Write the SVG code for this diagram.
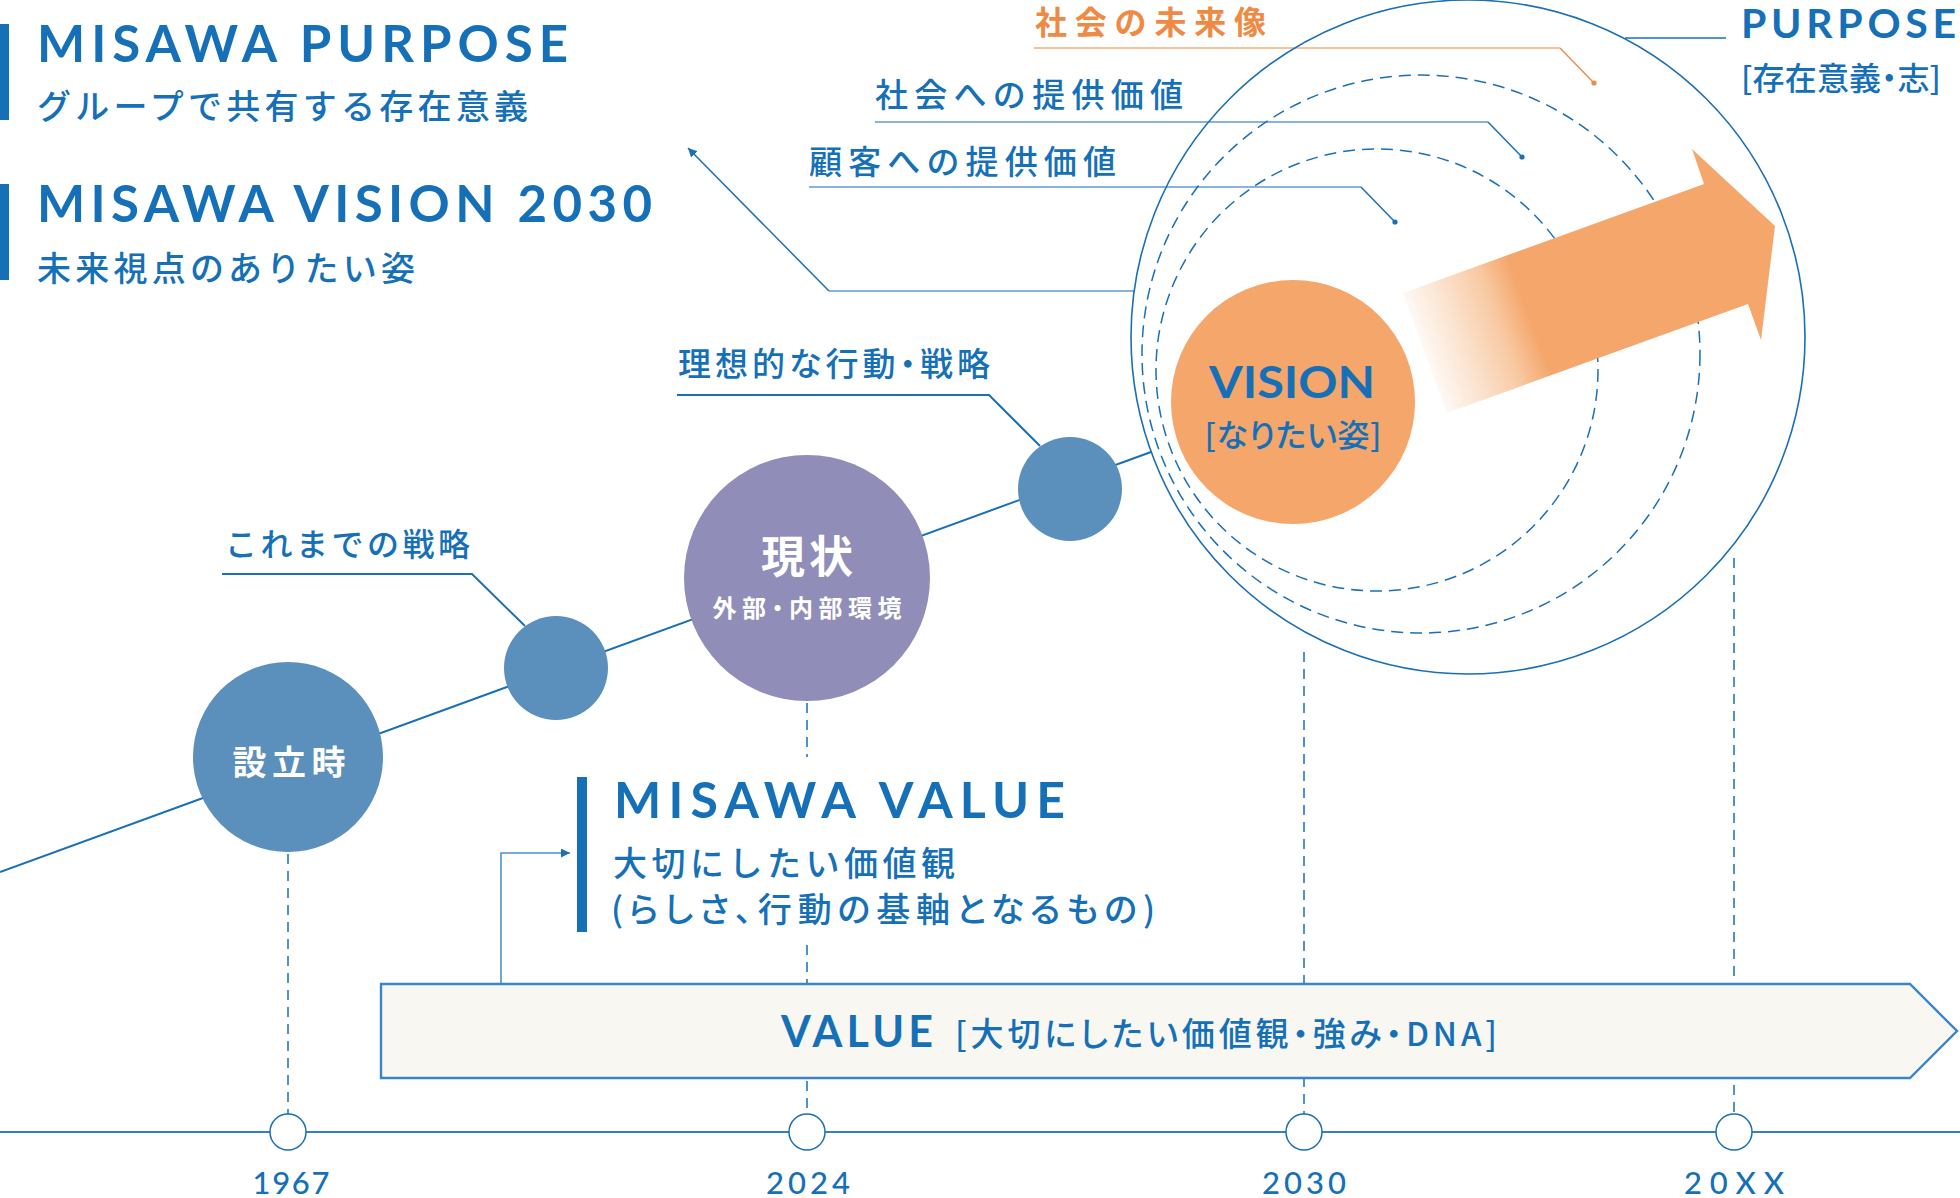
<svg xmlns="http://www.w3.org/2000/svg" width="1960" height="1198" viewBox="0 0 1960 1198">
<style>
.lat{font-family:Lato,"Noto Sans CJK JP","Liberation Sans",sans-serif;}
.jp{font-family:"Noto Sans CJK JP","Noto Sans",sans-serif;}
.p{font-feature-settings:"palt";}
.blue{fill:#1670b8;}
.title{font-weight:700;font-size:51px;}
.sub{font-weight:500;font-size:34px;}
.lbl{font-weight:500;font-size:33px;}
.wb{fill:#ffffff;font-weight:700;}
.ln{fill:none;stroke:#1a6fb5;stroke-width:1.5;}
.lnh{fill:none;stroke:#5e9bd4;stroke-width:1.6;}
.dash{fill:none;stroke:#1a6fb5;stroke-width:1.5;stroke-dasharray:12 7;}
.vdash{fill:none;stroke:#1a6fb5;stroke-width:1.5;stroke-dasharray:10 7;}
.bar{fill:#1670b8;}
.dot{fill:#1a6fb5;}
.year{font-family:Lato,"Liberation Sans",sans-serif;font-size:31px;fill:#1670b8;font-weight:500;}
</style>
<defs>
<marker id="ah" viewBox="0 0 10 10" refX="10" refY="5" markerWidth="9" markerHeight="9" markerUnits="userSpaceOnUse" orient="auto">
<path d="M0,0 L10,5 L0,10 z" fill="#1a6fb5"/>
</marker>
<linearGradient id="fade" gradientUnits="userSpaceOnUse" x1="1415" y1="357" x2="1545" y2="309">
<stop offset="0" stop-color="#ffffff"/>
<stop offset="0.35" stop-color="#fbe3cf"/>
<stop offset="0.65" stop-color="#f8c9a2"/>
<stop offset="0.88" stop-color="#f4a66b"/>
<stop offset="1" stop-color="#f4a66b"/>
</linearGradient>
</defs>

<g id="connectors">
<line x1="0" y1="872" x2="1151" y2="452" stroke="#1a6fb5" stroke-width="2"/>
<line x1="0" y1="1132" x2="1960" y2="1132" stroke="#3580c4" stroke-width="2.2"/>
<line class="vdash" x1="288" y1="854" x2="288" y2="1114"/>
<line class="vdash" x1="807" y1="703" x2="807" y2="757"/>
<line class="vdash" x1="807" y1="945" x2="807" y2="1114"/>
<line class="vdash" x1="1304" y1="652" x2="1304" y2="1114"/>
<line class="vdash" x1="1734" y1="558" x2="1734" y2="1114"/>
<polyline fill="none" stroke="#f9c39a" stroke-width="2" points="1034,48 1560,48"/>
<polyline fill="none" stroke="#ef8a45" stroke-width="1.4" points="1560,48 1594,83"/>
<circle cx="1594" cy="83" r="2.6" fill="#ef8a45"/>
<polyline class="lnh" points="875,122 1488,122"/>
<polyline class="ln" points="1488,122 1522,157"/>
<circle class="dot" cx="1522" cy="157" r="2.6"/>
<polyline class="lnh" points="809,187 1361,187"/>
<polyline class="ln" points="1361,187 1395,222"/>
<circle class="dot" cx="1395" cy="222" r="2.6"/>
<polyline class="lnh" points="1134,291 829,291"/>
<line class="ln" x1="829" y1="291" x2="688" y2="148" marker-end="url(#ah)"/>
<line x1="1625" y1="38" x2="1726" y2="38" stroke="#1a6fb5" stroke-width="1.5"/>
<polyline fill="none" stroke="#1a6fb5" stroke-width="2" points="222,574 472,574 525,626"/>
<polyline fill="none" stroke="#1a6fb5" stroke-width="2" points="677,395 989,395 1040,446"/>
<polyline fill="none" stroke="#4d8fcf" stroke-width="1.6" points="501,983 501,853 570,853" marker-end="url(#ah)"/>
</g>

<g id="purpose-circle">
<circle cx="1468" cy="337" r="337" fill="none" stroke="#1a6fb5" stroke-width="1.6"/>
<circle class="dash" cx="1421" cy="354" r="279"/>
<circle class="dash" cx="1377" cy="370" r="221"/>
</g>

<g id="arrow">
<polygon points="1403,293 1704,184 1692,149 1775,226 1761,340 1748,304 1447,413" fill="url(#fade)"/>
</g>

<g id="vision-node">
<circle cx="1293" cy="402" r="122" fill="#f4a66b"/>
<text class="lat blue" x="1292" y="398" font-size="43" font-weight="700" text-anchor="middle" textLength="166" lengthAdjust="spacingAndGlyphs">VISION</text>
<text class="jp blue p" x="1293" y="447" font-size="32" font-weight="500" text-anchor="middle" textLength="177" lengthAdjust="spacing">[なりたい姿]</text>
</g>

<g id="node-founding">
<circle cx="288" cy="757" r="95" fill="#5b8fbc"/>
<text class="jp wb" x="289" y="775" font-size="34" text-anchor="middle" textLength="113" lengthAdjust="spacing">設立時</text>
</g>
<g id="node-past-strategy">
<circle cx="556" cy="668" r="52" fill="#5b8fbc"/>
</g>
<g id="node-current">
<circle cx="807" cy="578" r="123" fill="#908db9"/>
<text class="jp wb" x="807" y="573" font-size="44" text-anchor="middle" textLength="92" lengthAdjust="spacing">現状</text>
<text class="jp wb p" x="807" y="617" font-size="24" text-anchor="middle" textLength="189" lengthAdjust="spacing">外部・内部環境</text>
</g>
<g id="node-ideal">
<circle cx="1070" cy="489" r="52" fill="#5b8fbc"/>
</g>

<g id="labels">
<rect class="bar" x="0" y="24" width="9" height="96"/>
<text class="lat blue title" x="37" y="62" font-size="50" textLength="531" lengthAdjust="spacing">MISAWA PURPOSE</text>
<text class="jp blue sub" x="37" y="119" textLength="491" lengthAdjust="spacing">グループで共有する存在意義</text>
<rect class="bar" x="0" y="184" width="9" height="96"/>
<text class="lat blue title" x="37" y="222" textLength="615" lengthAdjust="spacing">MISAWA VISION 2030</text>
<text class="jp blue sub" x="37" y="281" textLength="378" lengthAdjust="spacing">未来視点のありたい姿</text>

<text class="jp" x="1035" y="34" font-size="32" font-weight="700" fill="#ef8a45" textLength="231" lengthAdjust="spacing">社会の未来像</text>
<text class="jp blue lbl" x="875" y="107" textLength="308" lengthAdjust="spacing">社会への提供価値</text>
<text class="jp blue lbl" x="809" y="174" textLength="307" lengthAdjust="spacing">顧客への提供価値</text>
<text class="lat blue" x="1741" y="38" font-size="41" font-weight="700" textLength="215" lengthAdjust="spacing">PURPOSE</text>
<text class="jp blue p" x="1741" y="90" font-size="32" font-weight="500" textLength="200" lengthAdjust="spacing">[存在意義・志]</text>

<text class="jp blue lbl p" x="678" y="376" textLength="312" lengthAdjust="spacing">理想的な行動・戦略</text>
<text class="jp blue" x="225" y="556" font-size="32" font-weight="500" textLength="245" lengthAdjust="spacing">これまでの戦略</text>
</g>

<g id="misawa-value">
<rect x="595" y="760" width="480" height="185" fill="#ffffff"/>
<rect class="bar" x="577" y="777" width="10" height="155"/>
<text class="lat blue" x="614" y="818" font-size="50" font-weight="700" textLength="451" lengthAdjust="spacing">MISAWA VALUE</text>
<text class="jp blue sub" x="613" y="876" textLength="342" lengthAdjust="spacing">大切にしたい価値観</text>
<text class="jp blue sub p" x="611" y="922" textLength="544" lengthAdjust="spacing">(らしさ、行動の基軸となるもの)</text>
</g>

<g id="value-banner">
<polygon points="381,984 1910,984 1957,1031 1910,1078 381,1078" fill="#f8f7f2" stroke="#3a85c8" stroke-width="2.4"/>
<text class="lat blue" x="781" y="1047" font-size="43" font-weight="700" textLength="152" lengthAdjust="spacing">VALUE</text>
<text class="jp blue p" x="955" y="1046" font-size="33" font-weight="500" textLength="542" lengthAdjust="spacing">[大切にしたい価値観・強み・DNA]</text>
</g>

<g id="timeline-markers">
<circle cx="288" cy="1132" r="18" fill="#ffffff" stroke="#1a6fb5" stroke-width="1.5"/>
<circle cx="807" cy="1132" r="18" fill="#ffffff" stroke="#1a6fb5" stroke-width="1.5"/>
<circle cx="1304" cy="1132" r="18" fill="#ffffff" stroke="#1a6fb5" stroke-width="1.5"/>
<circle cx="1734" cy="1132" r="18" fill="#ffffff" stroke="#1a6fb5" stroke-width="1.5"/>
<text class="year" x="291" y="1194" text-anchor="middle" textLength="77" lengthAdjust="spacing">1967</text>
<text class="year" x="808" y="1194" text-anchor="middle" textLength="84" lengthAdjust="spacing">2024</text>
<text class="year" x="1304" y="1194" text-anchor="middle" textLength="84" lengthAdjust="spacing">2030</text>
<text class="year" x="1734" y="1194" text-anchor="middle" textLength="100" lengthAdjust="spacing">20XX</text>
</g>
</svg>
